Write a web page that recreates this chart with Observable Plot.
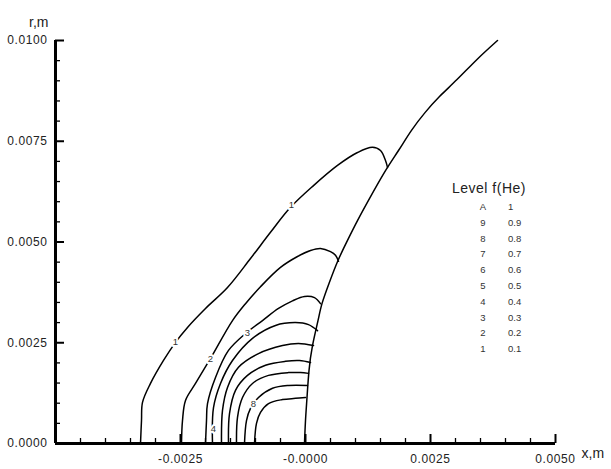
<!DOCTYPE html>
<html><head><meta charset="utf-8">
<script src="https://cdn.jsdelivr.net/npm/d3@7"></script>
<script src="https://cdn.jsdelivr.net/npm/@observablehq/plot@0.6"></script>
<style>
body{margin:0;background:#fff;}
#wrap{position:relative;width:611px;height:469px;font-family:"Liberation Sans",Arial,sans-serif;}
#wrap svg{position:absolute;left:0;top:0;}
#wrap svg [aria-label^="x-axis"] text, #wrap svg [aria-label^="y-axis"] text{letter-spacing:0.6px;}
.lg{position:absolute;color:#222;white-space:nowrap;line-height:1;}
.lg.title{font-size:14px;letter-spacing:0.5px;}
.lg.row{font-size:9.5px;color:#333;}
</style></head><body><div id="wrap"></div>
<script>
// tick values and labels
const xMajor = [-0.0025, 0, 0.0025, 0.005];
const xMajorLabels = ["-0.0025", "-0.0000", "0.0025", "0.0050"];
const xMinor = [-0.0045, -0.004, -0.0035, -0.003, -0.002, -0.0015, -0.001, -0.0005,
                0.0005, 0.001, 0.0015, 0.002, 0.003, 0.0035, 0.004, 0.0045];
const yMajor = [0, 0.0025, 0.005, 0.0075, 0.01];
const yMajorLabels = ["0.0000", "0.0025", "0.0050", "0.0075", "0.0100"];
const yMinor = [0.0005, 0.001, 0.0015, 0.002, 0.003, 0.0035, 0.004, 0.0045,
                0.0055, 0.006, 0.0065, 0.007, 0.008, 0.0085, 0.009, 0.0095];

// legend
const levelKeys = ["A", "9", "8", "7", "6", "5", "4", "3", "2", "1"];
const levelValues = ["1", "0.9", "0.8", "0.7", "0.6", "0.5", "0.4", "0.3", "0.2", "0.1"];

// curves [x (m), r (m)]
const shock = [[-0.00002,0],[0.0,0.00057],[0.00003,0.00114],[0.00007,0.00181],[0.00014,0.00243],
  [0.00025,0.00305],[0.00033,0.00347],[0.00047,0.00397],[0.00065,0.00454],[0.00084,0.00504],
  [0.00104,0.00553],[0.00129,0.0061],[0.0016,0.00677],[0.00186,0.00727],[0.00212,0.00777],
  [0.00239,0.00821],[0.00268,0.00861],[0.00303,0.00903],[0.00343,0.00953],[0.00384,0.01]];
const contour1 = [[-0.0033,0],[-0.00328,0.00057],[-0.00326,0.00102],[-0.0031,0.00149],[-0.00284,0.00206],
  [-0.0026,0.00251],[-0.00236,0.00288],[-0.002,0.00335],[-0.00156,0.00387],[-0.0011,0.00459],
  [-0.0007,0.00524],[-0.0003,0.00586],[0.00016,0.0064],[0.00064,0.0069],[0.00104,0.00722],
  [0.00134,0.00735],[0.0015,0.00727],[0.0016,0.00702],[0.00164,0.00685]];
const contour2 = [[-0.00248,0],[-0.00246,0.00057],[-0.0024,0.00107],[-0.0022,0.00149],[-0.0019,0.00211],
  [-0.00146,0.00305],[-0.0012,0.00347],[-0.0009,0.00389],[-0.0005,0.00437],[-0.00016,0.00464],
  [0.0001,0.00479],[0.0003,0.00484],[0.0005,0.00476],[0.0006,0.00467],[0.00066,0.00452]];
const contour3 = [[-0.002,0],[-0.00198,0.00057],[-0.00196,0.00099],[-0.0018,0.00164],[-0.00154,0.00231],
  [-0.0012,0.00273],[-0.00086,0.00305],[-0.00054,0.00335],[-0.00026,0.00354],[-0.00002,0.00365],
  [0.00018,0.00362],[0.0003,0.00347]];
const contour4 = [[-0.00186,0],[-0.00184,0.00089],[-0.0017,0.00149],[-0.00146,0.00206],[-0.00106,0.00261],
  [-0.0006,0.00293],[-0.0002,0.003],[0.00006,0.00295],[0.00024,0.0028]];
const contour5 = [[-0.00168,0],[-0.00166,0.00082],[-0.00156,0.00139],[-0.00134,0.00189],[-0.00094,0.00223],
  [-0.00046,0.00243],[-0.00014,0.00248],[0.00016,0.00243]];
const contour6 = [[-0.00154,0],[-0.00152,0.00074],[-0.0014,0.00132],[-0.00116,0.00169],[-0.0008,0.00194],
  [-0.0004,0.00204],[-0.00012,0.00206],[0.0001,0.00201]];
const contour7 = [[-0.00138,0],[-0.00136,0.00065],[-0.00126,0.00114],[-0.00106,0.00149],[-0.00074,0.00169],
  [-0.00034,0.00176],[-0.0001,0.00176],[0.00006,0.00174]];
const contour8 = [[-0.00122,0],[-0.00118,0.00057],[-0.0011,0.00087],[-0.00094,0.00114],[-0.00066,0.00137],
  [-0.00034,0.00144],[0.00004,0.00144]];
const contour9 = [[-0.00102,0],[-0.00098,0.0005],[-0.0009,0.00077],[-0.00074,0.00099],[-0.00046,0.00109],
  [-0.0002,0.00112],[0.0,0.00114]];

// contour labels
const labelText = ["1", "1", "2", "3", "4", "8"];
const labelX = [-0.0026, -0.00028, -0.0019, -0.00116, -0.00184, -0.00104];
const labelY = [0.00251, 0.00591, 0.00211, 0.00275, 0.00037, 0.00099];

const curves = {contour1, contour2, contour3, contour4, contour5, contour6, contour7, contour8, contour9};
const lineRows = Object.entries(curves).flatMap(([name, pts]) => pts.map(([x, y]) => ({curve: name, x, y})));
const shockRows = shock.map(([x, y]) => ({x, y}));
const labelRows = labelText.map((t, i) => ({t, x: labelX[i], y: labelY[i]}));

const W = 611, H = 469, mL = 55, mR = 56, mT = 40, mB = 26;
const plotH = H - mT - mB;

const chart = Plot.plot({
  width: W, height: H,
  marginLeft: mL, marginRight: mR, marginTop: mT, marginBottom: mB,
  x: {domain: [-0.005, 0.005], axis: null},
  y: {domain: [0, 0.01], axis: null},
  style: {fontFamily: "'Liberation Sans', Arial, sans-serif", background: "transparent", color: "#222"},
  marks: [
    Plot.line(shockRows, {x: "x", y: "y", stroke: "black", strokeWidth: 1.5, curve: "natural"}),
    Plot.line(lineRows, {x: "x", y: "y", z: "curve", stroke: "black", strokeWidth: 1.5, curve: "catmull-rom"}),
    Plot.text(labelRows, {x: "x", y: "y", text: "t", fontSize: 9.5, fill: "#333", stroke: "white", strokeWidth: 4}),
    Plot.ruleX(xMinor, {x: d => d, insetTop: plotH - 5, stroke: "black", strokeWidth: 1.3}),
    Plot.ruleX(xMajor, {x: d => d, insetTop: plotH - 9, stroke: "black", strokeWidth: 2}),
    Plot.ruleY(yMinor, {y: d => d, x1: -0.005, x2: -0.005, insetRight: -5, stroke: "black", strokeWidth: 1.3}),
    Plot.ruleY(yMajor, {y: d => d, x1: -0.005, x2: -0.005, insetRight: -9, stroke: "black", strokeWidth: 2}),
    Plot.ruleY([0], {stroke: "black", strokeWidth: 3}),
    Plot.ruleX([-0.005], {stroke: "black", strokeWidth: 3}),
    Plot.axisX(xMajor, {anchor: "bottom", label: null, tickSize: 0, tickPadding: 11, fontSize: 12,
      tickFormat: d => xMajorLabels[xMajor.indexOf(d)]}),
    Plot.axisY(yMajor, {anchor: "left", label: null, tickSize: 0, tickPadding: 8, fontSize: 12,
      tickFormat: d => yMajorLabels[yMajor.indexOf(d)]}),
    Plot.text(["r,m"], {frameAnchor: "top-left", textAnchor: "end", dx: -7, dy: -23, fontSize: 14, fill: "#222"}),
    Plot.text(["x,m"], {frameAnchor: "bottom-right", textAnchor: "start", dx: 26, dy: 14, fontSize: 14, fill: "#222"})
  ]
});
const wrap = document.getElementById("wrap");
wrap.appendChild(chart);

// legend overlay
const lg = d3.select(wrap);
lg.append("div").attr("class", "lg title").style("left", "452px").style("top", "181px").text("Level f(He)");
levelKeys.forEach((k, i) => {
  const top = 202 + i * 15.8;
  lg.append("div").attr("class", "lg row").style("left", "476px").style("width", "14px")
    .style("text-align", "center").style("top", top + "px").text(k);
  lg.append("div").attr("class", "lg row").style("left", "508px").style("top", top + "px").text(levelValues[i]);
});
</script>
</body></html>
